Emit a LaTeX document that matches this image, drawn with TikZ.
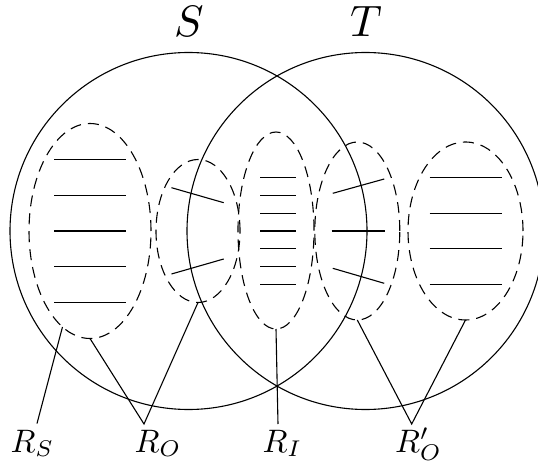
\documentclass[tikz,border=0pt]{standalone}
\usetikzlibrary{shapes.geometric}
\begin{document}
\begin{tikzpicture}[x=1pt,y=-1pt,
  setcirc/.style={circle,draw,line width=1.1pt,inner sep=0pt,outer sep=0pt,minimum size=357pt},
  region/.style={ellipse,draw,line width=1.1pt,dash pattern=on 11pt off 7pt,inner sep=0pt,outer sep=0pt},
  seg/.style={line width=1.1pt},
  lead/.style={line width=1.1pt},
  setname/.style={scale=4.4,anchor=base,inner sep=0pt},
  regname/.style={scale=3.25,anchor=base west,inner sep=0pt}]
\useasboundingbox (0,0) rectangle (538,465);
% sets
\node[setcirc] (cS) at (188.5,231) {};
\node[setcirc] (cT) at (365.5,231) {};
\node[setname] (lS) at (189,36.5) {$S$};
\node[setname] (lT) at (366,36.5) {$T$};
% regions
\node[region,minimum width=122pt,minimum height=215pt] (e1) at (90,231) {};
\node[region,minimum width=84pt,minimum height=143pt] (e2) at (198,231) {};
\node[region,minimum width=76pt,minimum height=197pt] (e3) at (276,230.5) {};
\node[region,minimum width=85pt,minimum height=178pt] (e4) at (357.3,231) {};
\node[region,minimum width=115pt,minimum height=178pt] (e5) at (465.5,231) {};
% segments in e1
\foreach \k in {-2,...,2}
  \draw[seg] (54.2,231+\k*35.75) -- (126.2,231+\k*35.75);
% segments in e3
\foreach \k in {-3,...,3}
  \draw[seg] (260,231+\k*17.9) -- (295.7,231+\k*17.9);
% segments in e5
\foreach \k in {-53.6,-17.9,17.9,53.6}
  \draw[seg] (429.5,231+\k) -- (501.5,231+\k);
% segments in e2
\draw[seg] (171.5,187.7) -- (223.7,202.7);
\draw[seg] (171.5,274) -- (223.7,259);
% segments in e4
\draw[seg] (332.8,193.3) -- (384.2,179);
\draw[seg] (331.7,231) -- (385,231);
\draw[seg] (332.8,268.3) -- (384.2,283.3);
% labels
\node[regname] (rS) at (10,452) {$R_S$};
\node[regname] (rO) at (134,452) {$R_O$};
\node[regname] (rI) at (262,452) {$R_I$};
\node[regname] (rO2) at (394.5,452) {$R'_O$};
\coordinate (pS) at (37,423.5);
\coordinate (pO) at (144,424);
\coordinate (pI) at (278,424);
\coordinate (pO2) at (411.7,424);
% leads
\draw[lead] (e1.254.8) -- (pS);
\draw[lead] (e1.south) -- (pO) -- (e2.south);
\draw[lead] (e3.south) -- (pI);
\draw[lead] (e4.south) -- (pO2) -- (e5.south);
\end{tikzpicture}
\end{document}
